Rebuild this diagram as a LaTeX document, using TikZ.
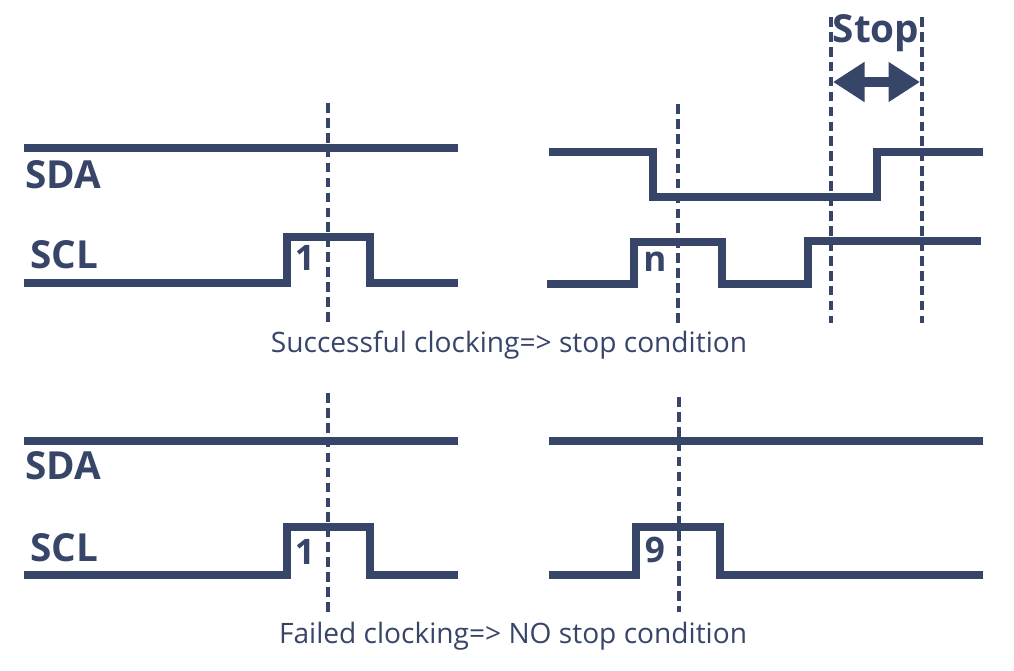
\documentclass[tikz,border=0pt]{standalone}
\usepackage{fontspec}
\setmainfont{Open Sans}
\usetikzlibrary{arrows.meta}
\definecolor{navy}{RGB}{54,69,104}
\begin{document}
\begin{tikzpicture}[
		x=0.02cm, y=-0.02cm,
		every node/.style={text=navy, inner sep=0pt},
		sig/.style={navy, line width=4pt, line join=miter},
		guide/.style={navy, line width=2pt, dash pattern=on 5.5pt off 3pt},
		signame/.style={font=\bfseries\fontsize{22}{25}\selectfont},
		bitnum/.style={font=\bfseries\fontsize{20}{22}\selectfont},
		caption/.style={font=\fontsize{16}{19}\selectfont}
		]
		\useasboundingbox (0,0) rectangle (1014,671);
		% successful clocking
		\node[signame] (sdaA) at (63,175) {SDA};
		\node[signame] (sclA) at (64,255) {SCL};
		\draw[sig] (24,148) -- (458,148);
		\draw[sig] (24,283) -- (287,283) -- (287,237) -- (370,237) -- (370,283) -- (458,283);
		\node[bitnum] (bitA) at (305,258) {1};
		\coordinate (gAt) at (328,103);
		\coordinate (gAb) at (328,325);
		\draw[guide] (gAt) -- (gAb);
		\draw[sig] (549,152) -- (653,152) -- (653,197) -- (877,197) -- (877,152) -- (983,152);
		\draw[sig] (547,284) -- (634,284) -- (634,242) -- (722,242) -- (722,284) -- (808,284) -- (808,241) -- (981,241);
		\node[bitnum] (bitB) at (655,262) {n};
		\coordinate (gBt) at (678,104);
		\coordinate (gBb) at (678,323);
		\draw[guide] (gBt) -- (gBb);
		\coordinate (stopLt) at (831,17);
		\coordinate (stopLb) at (831,323);
		\coordinate (stopRt) at (922,17);
		\coordinate (stopRb) at (922,323);
		\draw[guide] (stopLt) -- (stopLb);
		\draw[guide] (stopRt) -- (stopRb);
		\node[signame] (stop) at (876,33) {Stop};
		\coordinate (arrL) at (833,82);
		\coordinate (arrR) at (920,82);
		\draw[navy, line width=6pt, {Triangle[length=0.63cm, width=0.76cm]}-{Triangle[length=0.63cm, width=0.76cm]}] (arrL) -- (arrR);
		\node[caption] (capA) at (509,345) {Successful clocking=> stop condition};
		% failed clocking
		\node[signame] (sdaC) at (63,466) {SDA};
		\node[signame] (sclC) at (64,548) {SCL};
		\draw[sig] (24,441) -- (458,441);
		\draw[sig] (24,575) -- (287,575) -- (287,527) -- (370,527) -- (370,575) -- (458,575);
		\node[bitnum] (bitC) at (305,552) {1};
		\coordinate (gCt) at (328,393);
		\coordinate (gCb) at (328,612);
		\draw[guide] (gCt) -- (gCb);
		\draw[sig] (549,441) -- (983,441);
		\draw[sig] (549,575) -- (636,575) -- (636,527) -- (720,527) -- (720,575) -- (983,575);
		\node[bitnum] (bitD) at (655,550) {9};
		\coordinate (gDt) at (679,397);
		\coordinate (gDb) at (679,612);
		\draw[guide] (gDt) -- (gDb);
		\node[caption] (capC) at (513,636) {Failed clocking=> NO stop condition};
\end{tikzpicture}
\end{document}
